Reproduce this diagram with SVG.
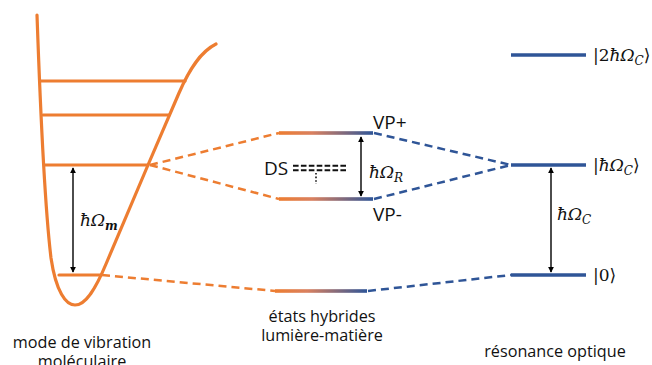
<svg xmlns="http://www.w3.org/2000/svg" width="652" height="365" viewBox="0 0 652 365">
<defs>
<linearGradient id="mix" x1="0" y1="0" x2="1" y2="0">
<stop offset="0" stop-color="#ED7D31"/>
<stop offset="0.35" stop-color="#D9805F"/>
<stop offset="1" stop-color="#2F5597"/>
</linearGradient>
<marker id="ah" viewBox="0 0 8 8" refX="7" refY="4" markerWidth="6" markerHeight="6" markerUnits="userSpaceOnUse" orient="auto-start-reverse">
<path d="M0,0 L8,4 L0,8 Z" fill="#000"/>
</marker>
<style>
.or{stroke:#ED7D31;stroke-width:3.2;fill:none;stroke-linecap:round}
.bl{stroke:#2F5597;stroke-width:3.5;fill:none}
.mx{fill:url(#mix)}
.dor{stroke:#ED7D31;stroke-width:2.5;fill:none;stroke-dasharray:8 5}
.dbl{stroke:#2F5597;stroke-width:2.5;fill:none;stroke-dasharray:8 5}
.arr{stroke:#000;stroke-width:1.4;fill:none;marker-start:url(#ah);marker-end:url(#ah)}
.ds{stroke:#111;stroke-width:2;fill:none;stroke-dasharray:5.6 2.3}
.lbl{font-family:"Open Sans",Lato,sans-serif;font-size:16.2px;fill:#111}
.st{font-family:"Open Sans",Lato,sans-serif;font-size:19px;fill:#111}
.m{font-family:"DejaVu Serif","Liberation Serif",serif;font-style:italic;font-size:17px;fill:#111}
.up{font-style:normal}
.sub{font-size:12px}
</style>
</defs>

<g id="vibration-mode">
<path class="or" d="M37,15 C40,100 44,200 51,258 C56,292 66,305 75,305 C86,305 96,288 106,264 L148,165 L179,93 C189,70 200,52 216,44"/>
<line class="or" x1="40" y1="81" x2="185" y2="81"/>
<line class="or" x1="43" y1="115" x2="169" y2="115"/>
<line class="or" x1="45" y1="165" x2="148" y2="165"/>
<line class="or" x1="59" y1="275" x2="101" y2="275"/>
<line class="arr" x1="73" y1="168" x2="73" y2="272"/>
<text class="m" x="80" y="226">ħΩ<tspan class="sub" dy="4" font-weight="bold">m</tspan></text>
<text class="lbl" x="82" y="348" text-anchor="middle">mode de vibration</text>
<text class="lbl" x="82" y="367" text-anchor="middle">moléculaire</text>
</g>

<g id="hybrid-states">
<rect class="mx" x="279" y="131.2" width="94" height="3.6"/>
<rect class="mx" x="279" y="197.2" width="94" height="3.6"/>
<rect class="mx" x="275" y="289.2" width="92" height="3.6"/>
<text class="st" x="373" y="129">VP+</text>
<text class="st" x="373" y="221">VP-</text>
<text class="st" x="264" y="175">DS</text>
<line class="ds" x1="293" y1="165.8" x2="348" y2="165.8"/>
<line class="ds" x1="293" y1="170.3" x2="348" y2="170.3"/>
<line x1="316" y1="173" x2="316" y2="184" stroke="#111" stroke-width="1.6" stroke-dasharray="1.6 2"/>
<line class="arr" x1="361" y1="137" x2="361" y2="196"/>
<text class="m" x="369" y="178">ħΩ<tspan class="sub" dy="4">R</tspan></text>
<text class="lbl" x="322" y="322" text-anchor="middle">états hybrides</text>
<text class="lbl" x="322" y="341" text-anchor="middle">lumière-matière</text>
</g>

<g id="optical-resonance">
<line class="bl" x1="511" y1="55" x2="586" y2="55"/>
<line class="bl" x1="511" y1="165" x2="586" y2="165"/>
<line class="bl" x1="511" y1="275" x2="586" y2="275"/>
<text class="m" x="593" y="61"><tspan class="up">|2</tspan>ħΩ<tspan class="sub" dy="4">C</tspan><tspan class="up" dy="-4">⟩</tspan></text>
<text class="m" x="593" y="171"><tspan class="up">|</tspan>ħΩ<tspan class="sub" dy="4">C</tspan><tspan class="up" dy="-4">⟩</tspan></text>
<text class="m up" x="593" y="281">|0⟩</text>
<line class="arr" x1="551" y1="168" x2="551" y2="272"/>
<text class="m" x="557" y="220">ħΩ<tspan class="sub" dy="4">C</tspan></text>
<text class="lbl" x="555" y="357" text-anchor="middle">résonance optique</text>
</g>

<g id="connectors">
<line class="dor" x1="150" y1="165" x2="279" y2="133"/>
<line class="dor" x1="150" y1="165" x2="279" y2="199"/>
<line class="dor" x1="102" y1="275" x2="275" y2="291"/>
<line class="dbl" x1="374" y1="133" x2="511" y2="165"/>
<line class="dbl" x1="374" y1="199" x2="511" y2="165"/>
<line class="dbl" x1="368" y1="291" x2="511" y2="275"/>
</g>
</svg>
